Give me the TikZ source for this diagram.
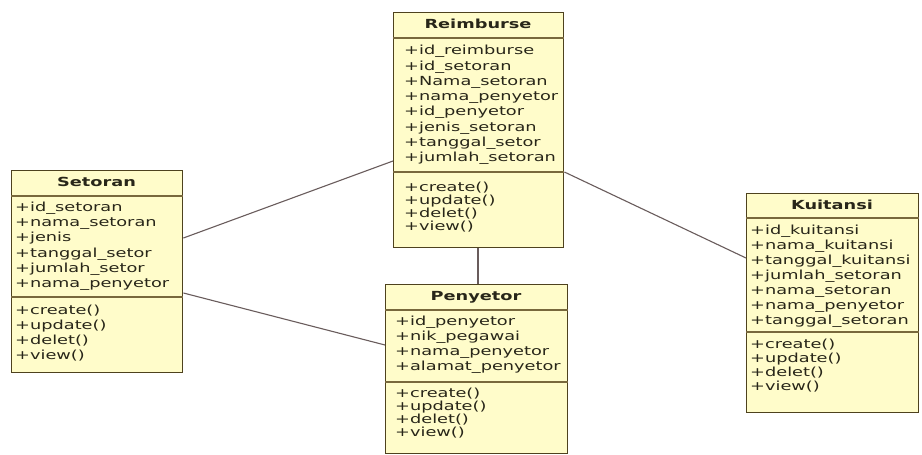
\documentclass[tikz,border=0pt]{standalone}
\usepackage{fontspec}
\newfontfamily\umlfont[FakeStretch=1.42]{DejaVu Sans}
\definecolor{boxfill}{RGB}{255,252,202}
\definecolor{boxline}{RGB}{78,66,30}
\definecolor{sepline}{RGB}{120,104,60}
\definecolor{txt}{RGB}{40,38,25}
\definecolor{conn}{RGB}{105,92,92}
\tikzset{
  classbox/.style={draw=boxline, line width=1.4pt, fill=boxfill, anchor=north west, inner sep=0pt},
  sepl/.style={draw=sepline, line width=2pt},
  attr/.style={anchor=west, inner sep=0pt, text height=9pt, text depth=3pt, text=txt, font=\umlfont\fontsize{12.5}{15}\selectfont},
  ctitle/.style={inner sep=0pt, text height=9pt, text depth=3pt, text=txt, font=\umlfont\bfseries\fontsize{12.5}{15}\selectfont},
  assoc/.style={draw=conn, line width=1.1pt}
}
\begin{document}
\begin{tikzpicture}[x=1pt,y=-1pt]
\useasboundingbox (0,0) rectangle (922,455);
\fill[white] (0,0) rectangle (922,455);

% ---------- Setoran ----------
\node[classbox, minimum width=171pt, minimum height=202pt] (setoran) at (11,170) {};
\draw[sepl] ([yshift=-26pt]setoran.north west) -- ([yshift=-26pt]setoran.north east);
\draw[sepl] ([yshift=-127pt]setoran.north west) -- ([yshift=-127pt]setoran.north east);
\node[ctitle] (setoran-t) at (96.5,183) {Setoran};
\foreach \t [count=\i] in {+id\_setoran,+nama\_setoran,+jenis,+tanggal\_setor,+jumlah\_setor,+nama\_penyetor}
  \node[attr] (setoran-a\i) at (15,{208.3+15.3*(\i-1)}) {\t};
\foreach \t [count=\i] in {+create(),+update(),+delet(),+view()}
  \node[attr] (setoran-m\i) at (15,{311.7+15*(\i-1)}) {\t};

% ---------- Reimburse ----------
\node[classbox, minimum width=170pt, minimum height=235pt] (reimburse) at (393,12) {};
\draw[sepl] ([yshift=-26pt]reimburse.north west) -- ([yshift=-26pt]reimburse.north east);
\draw[sepl] ([yshift=-160pt]reimburse.north west) -- ([yshift=-160pt]reimburse.north east);
\node[ctitle] (reimburse-t) at (478,25) {Reimburse};
\foreach \t [count=\i] in {+id\_reimburse,+id\_setoran,+Nama\_setoran,+nama\_penyetor,+id\_penyetor,+jenis\_setoran,+tanggal\_setor,+jumlah\_setoran}
  \node[attr] (reimburse-a\i) at (404,{51.7+15.3*(\i-1)}) {\t};
\foreach \t [count=\i] in {+create(),+update(),+delet(),+view()}
  \node[attr] (reimburse-m\i) at (404,{188+13*(\i-1)}) {\t};

% ---------- Penyetor ----------
\node[classbox, minimum width=182pt, minimum height=169pt] (penyetor) at (385,284) {};
\draw[sepl] ([yshift=-26pt]penyetor.north west) -- ([yshift=-26pt]penyetor.north east);
\draw[sepl] ([yshift=-98pt]penyetor.north west) -- ([yshift=-98pt]penyetor.north east);
\node[ctitle] (penyetor-t) at (476,297) {Penyetor};
\foreach \t [count=\i] in {+id\_penyetor,+nik\_pegawai,+nama\_penyetor,+alamat\_penyetor}
  \node[attr] (penyetor-a\i) at (395,{322+15.3*(\i-1)}) {\t};
\foreach \t [count=\i] in {+create(),+update(),+delet(),+view()}
  \node[attr] (penyetor-m\i) at (395,{394+13.2*(\i-1)}) {\t};

% ---------- Kuitansi ----------
\node[classbox, minimum width=172pt, minimum height=219pt] (kuitansi) at (746,193) {};
\draw[sepl] ([yshift=-25pt]kuitansi.north west) -- ([yshift=-25pt]kuitansi.north east);
\draw[sepl] ([yshift=-139pt]kuitansi.north west) -- ([yshift=-139pt]kuitansi.north east);
\node[ctitle] (kuitansi-t) at (832,206) {Kuitansi};
\foreach \t [count=\i] in {+id\_kuitansi,+nama\_kuitansi,+tanggal\_kuitansi,+jumlah\_setoran,+nama\_setoran,+nama\_penyetor,+tanggal\_setoran}
  \node[attr] (kuitansi-a\i) at (750,{231.7+15*(\i-1)}) {\t};
\foreach \t [count=\i] in {+create(),+update(),+delet(),+view()}
  \node[attr] (kuitansi-m\i) at (750,{345+14*(\i-1)}) {\t};

% ---------- associations ----------
\draw[assoc] ([yshift=-68pt]setoran.north east) -- ([yshift=-149pt]reimburse.north west);
\draw[assoc] ([yshift=-123pt]setoran.north east) -- ([yshift=-61pt]penyetor.north west);
\draw[assoc] ([xshift=85pt]reimburse.south west) -- ([xshift=93pt]penyetor.north west);
\draw[assoc] ([yshift=-160pt]reimburse.north east) -- ([yshift=-65pt]kuitansi.north west);
\end{tikzpicture}
\end{document}
